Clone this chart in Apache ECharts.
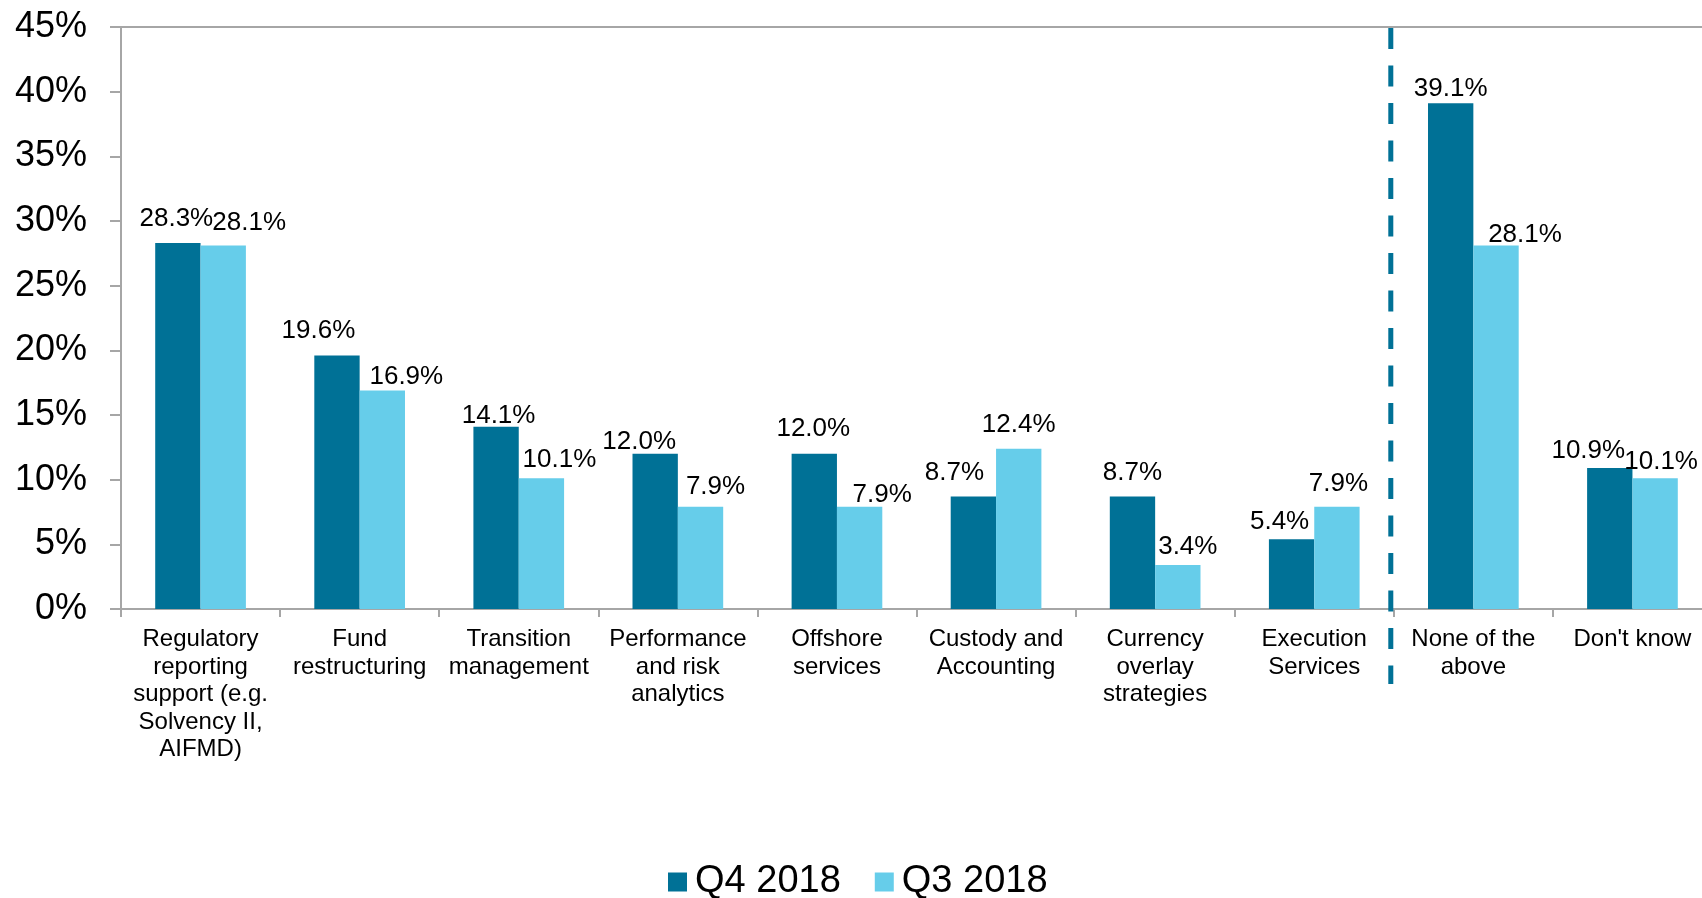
<!DOCTYPE html>
<html>
<head>
<meta charset="utf-8">
<script src="https://cdn.jsdelivr.net/npm/echarts@6/dist/echarts.min.js"></script>
<style>
  html, body { margin: 0; padding: 0; background: #fff; }
  #chart { width: 1702px; height: 898px; }
</style>
</head>
<body>
<div id="chart"></div>
<script>
// Services considered, one entry per category (line breaks as shown under the axis)
const categories = [
  'Regulatory\nreporting\nsupport (e.g.\nSolvency II,\nAIFMD)',
  'Fund\nrestructuring',
  'Transition\nmanagement',
  'Performance\nand risk\nanalytics',
  'Offshore\nservices',
  'Custody and\nAccounting',
  'Currency\noverlay\nstrategies',
  'Execution\nServices',
  'None of the\nabove',
  "Don't know"
];
const seriesNames = ['Q4 2018', 'Q3 2018'];
const q4_2018 = [28.3, 19.6, 14.1, 12.0, 12.0, 8.7, 8.7, 5.4, 39.1, 10.9];
const q3_2018 = [28.1, 16.9, 10.1, 7.9, 7.9, 12.4, 3.4, 7.9, 28.1, 10.1];
// index of the last category before the dashed separator
const separatorAfter = 7;

const FONT = '"Liberation Sans", Arial, Helvetica, sans-serif';
const DARK = '#007196';
const LIGHT = '#66CDEA';
const AXIS = '#A6A6A6';

// Hand-placed value labels: [dx, dy] nudges from the default spot above each bar
const labelNudge = {
  q4: [[-1.5, 0], [-18.5, -1], [2.5, 13], [-16, 12.5], [-1, -0.5], [-19, 0], [0, 0], [-12, 6.5], [0, 10], [-21.5, 6.5]],
  q3: [[26, 1.5], [24, 10.5], [18, 5.5], [15, 4.5], [22.5, 12], [0, 0], [10, 5.5], [1.5, 1.5], [29, 13], [6, 7]]
};

const chart = echarts.init(document.getElementById('chart'), null, { renderer: 'canvas' });

const labelStyle = {
  show: true,
  position: 'top',
  distance: 11,
  color: '#000',
  fontFamily: FONT,
  fontSize: 26,
  lineHeight: 26,
  formatter: p => p.value.toFixed(1) + '%'
};

function withNudges(values, nudges) {
  return values.map((v, i) => ({ value: v, label: { offset: nudges[i] } }));
}

chart.setOption({
  animation: false,
  backgroundColor: '#fff',
  textStyle: { fontFamily: FONT },
  grid: {
    left: 121, top: 27, height: 582, width: 1591,
    outerBoundsMode: 'none',
    containLabel: false,
    show: true, borderColor: AXIS, borderWidth: 2, backgroundColor: 'transparent'
  },
  legend: {
    data: seriesNames,
    left: 668, top: 862, padding: 0,
    itemWidth: 19, itemHeight: 19, itemGap: 34,
    icon: 'rect',
    textStyle: { fontFamily: FONT, fontSize: 38, color: '#000', lineHeight: 40, padding: [0, 0, 0, 3] }
  },
  xAxis: {
    type: 'category',
    data: categories,
    boundaryGap: true,
    axisLine: { lineStyle: { color: AXIS, width: 2 } },
    axisTick: { show: true, length: 8, alignWithLabel: false, lineStyle: { color: AXIS, width: 2 } },
    axisLabel: {
      interval: 0, margin: 17, color: '#000',
      fontFamily: FONT, fontSize: 24, lineHeight: 27.5, align: 'center'
    },
    splitLine: { show: false }
  },
  yAxis: {
    type: 'value',
    min: 0, max: 45, interval: 5,
    axisLine: { show: true, lineStyle: { color: AXIS, width: 2 } },
    axisTick: { show: true, length: 11, lineStyle: { color: AXIS, width: 2 } },
    axisLabel: { formatter: '{value}%', margin: 34, color: '#000', fontFamily: FONT, fontSize: 36 },
    splitLine: { show: false }
  },
  series: [
    {
      name: seriesNames[0], type: 'bar', data: withNudges(q4_2018, labelNudge.q4),
      itemStyle: { color: DARK }, barGap: '0%', barCategoryGap: '43%',
      label: labelStyle
    },
    {
      name: seriesNames[1], type: 'bar', data: withNudges(q3_2018, labelNudge.q3),
      itemStyle: { color: LIGHT }, barGap: '0%', barCategoryGap: '43%',
      label: labelStyle
    }
  ]
});

// Dashed separator between "Execution Services" and "None of the above"
function drawSeparator() {
  const a = chart.convertToPixel({ xAxisIndex: 0 }, separatorAfter);
  const b = chart.convertToPixel({ xAxisIndex: 0 }, separatorAfter + 1);
  const x = (a + b) / 2 - 3;
  const yTop = chart.convertToPixel({ yAxisIndex: 0 }, 45);
  const yZero = chart.convertToPixel({ yAxisIndex: 0 }, 0);
  chart.setOption({
    graphic: [{
      type: 'line',
      z: 100,
      shape: { x1: x, y1: yTop + 1, x2: x, y2: yZero + 75 },
      style: { stroke: DARK, lineWidth: 5, lineDash: [21, 16.5] }
    }]
  });
}
drawSeparator();
</script>
</body>
</html>
